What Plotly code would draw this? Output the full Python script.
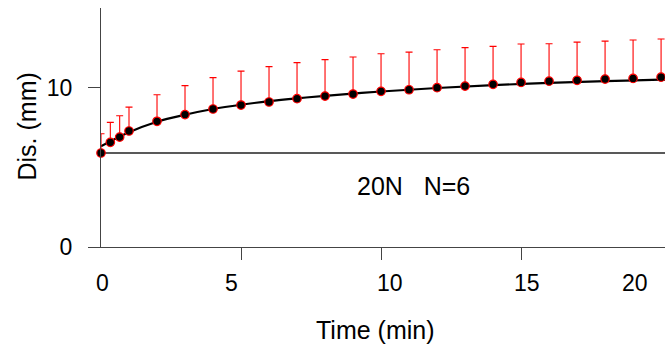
import plotly.graph_objects as go

# ---- data ----
time_min = [0, 1/3, 2/3, 1, 2, 3, 4, 5, 6, 7, 8, 9, 10, 11, 12, 13, 14, 15, 16, 17, 18, 19, 20]
dis_mean = [5.90, 6.57, 6.90, 7.28, 7.89, 8.31, 8.66, 8.91, 9.10, 9.31, 9.47, 9.60, 9.77,
            9.87, 10.00, 10.10, 10.21, 10.33, 10.41, 10.46, 10.54, 10.58, 10.66]
dis_upper = [7.11, 7.82, 8.24, 8.78, 9.56, 10.13, 10.63, 11.04, 11.32, 11.57, 11.76, 11.92, 12.13,
             12.23, 12.38, 12.51, 12.59, 12.74, 12.76, 12.86, 12.92, 12.99, 13.05]
dis_err = [round(u - m, 2) for u, m in zip(dis_upper, dis_mean)]

fit_t = [0, 1, 2, 3, 4, 5, 6, 7, 8, 10, 12, 14, 16, 18, 20, 20.2]
fit_y = [6.32, 7.20, 7.86, 8.30, 8.66, 8.93, 9.15, 9.33, 9.49, 9.76, 9.98, 10.16, 10.30, 10.41, 10.50, 10.51]

baseline_t = [0, 20.2]
baseline_y = [5.9, 5.9]

x_tick_vals = [5, 10, 15]
x_tick_labels = ["0", "5", "10", "15", "20"]
x_label_pos = [0.06, 4.65, 10.33, 15.2, 19.08]
y_tick_vals = [0, 10]
y_tick_labels = ["0", "10"]

FONT = "Liberation Sans, Arial, sans-serif"
FS_TICK = 23
FS_TITLE = 25

W, H = 665, 358
ML, MR, MT, MB = 101, 0, 8, 111
PLOT_H = H - MT - MB
PLOT_W = W - ML - MR


def py(page_y):
    """pixel y -> paper y"""
    return (MT + PLOT_H - page_y) / PLOT_H


def px(page_x):
    return (page_x - ML) / PLOT_W


fig = go.Figure()
fig.add_trace(go.Scatter(x=baseline_t, y=baseline_y, mode="lines",
                         line=dict(color="#222222", width=1.5), hoverinfo="skip"))
fig.add_trace(go.Scatter(x=fit_t, y=fit_y, mode="lines", line_shape="spline",
                         line=dict(color="black", width=2.2), hoverinfo="skip"))
fig.add_trace(go.Scatter(
    x=time_min, y=dis_mean, mode="markers", cliponaxis=False,
    marker=dict(color="black", size=8.5, line=dict(color="red", width=1.2)),
    error_y=dict(type="data", array=dis_err, arrayminus=[0] * len(dis_err), symmetric=False,
                 color="red", thickness=1.1, width=3.5),
))

fig.update_layout(
    width=W, height=H,
    margin=dict(l=ML, r=MR, t=MT, b=MB),
    paper_bgcolor="white", plot_bgcolor="white",
    showlegend=False,
    font=dict(family=FONT, size=FS_TICK, color="black"),
    xaxis=dict(range=[0, 20.14], showgrid=False, zeroline=False, showline=True,
               linecolor="#444444", linewidth=1.3,
               tickmode="array", tickvals=x_tick_vals, ticktext=["", "", ""],
               ticks="outside", ticklen=12, tickcolor="#444444", tickwidth=1),
    yaxis=dict(range=[0, 15], showgrid=False, zeroline=False, showline=True,
               linecolor="#444444", linewidth=1.3,
               tickmode="array", tickvals=y_tick_vals, ticktext=y_tick_labels,
               ticks="outside", ticklen=12, tickcolor="#444444", tickwidth=1,
               ticklabelstandoff=11, tickfont=dict(size=FS_TICK)),
)

annotations = []
for pos, lab in zip(x_label_pos, x_tick_labels):
    annotations.append(dict(x=pos, y=py(283), xref="x", yref="paper", text=lab, showarrow=False,
                            xanchor="center", yanchor="middle", font=dict(size=FS_TICK)))

annotations.append(dict(x=px(375), y=py(330), xref="paper", yref="paper",
                        text="Time (min)", showarrow=False, xanchor="center", yanchor="middle",
                        font=dict(size=FS_TITLE)))
annotations.append(dict(x=px(26.5), y=py(127), xref="paper", yref="paper",
                        text="Dis. (mm)", textangle=-90, showarrow=False,
                        xanchor="center", yanchor="middle", font=dict(size=FS_TITLE)))
annotations.append(dict(x=11.16, y=3.8, xref="x", yref="y", text="20N&nbsp;&nbsp;&nbsp;N=6",
                        showarrow=False, xanchor="center", yanchor="middle",
                        font=dict(size=FS_TITLE)))
fig.update_layout(annotations=annotations)

fig.write_html("out.html", config={"displayModeBar": False},
               post_script="document.body.style.margin='0';document.body.style.overflow='hidden';")
